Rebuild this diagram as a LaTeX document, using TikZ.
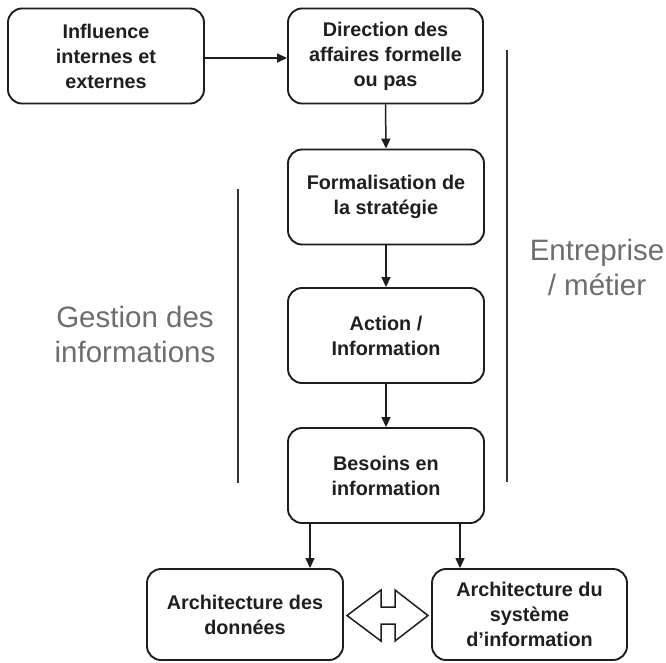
\documentclass[tikz,border=0pt]{standalone}
\usepackage{fontspec}
\setmainfont{Liberation Sans}
\usetikzlibrary{arrows.meta}
\definecolor{boxline}{HTML}{1E1E1E}
\definecolor{labgrey}{HTML}{6E6E6E}
\begin{document}
\begin{tikzpicture}[x=1pt,y=-1pt,
  box/.style={draw=boxline,line width=1.9pt,rounded corners=14pt,fill=white,
    align=center,text=black!88,font=\bfseries\fontsize{19.8}{25}\selectfont,
    minimum width=196pt,minimum height=95pt,inner sep=2pt},
  arr/.style={draw=boxline,line width=1.5pt,-{Triangle[length=10pt,width=9pt]}},
  vline/.style={draw=black!80,line width=2pt},
  glabel/.style={text=labgrey,align=center,font=\fontsize{29.5}{35}\selectfont}]
\useasboundingbox[fill=white] (0,0) rectangle (666,662);
\node[box] (inf) at (106,56) {Influence\\internes et\\externes};
\node[box,minimum width=195pt] (dir) at (385.5,56) {Direction des\\affaires formelle\\ou pas};
\node[box] (form) at (386,197) {Formalisation de\\la stratégie};
\node[box] (act) at (386,335.5) {Action /\\Information};
\node[box] (bes) at (386,475.5) {Besoins en\\information};
\node[box,minimum height=91pt] (ad) at (245,614.5) {Architecture des\\données};
\node[box,minimum width=195pt,minimum height=91pt] (asi) at (529.5,614.5) {Architecture du\\système\\d’information};
\draw[arr] ([yshift=-2pt]inf.east) -- ([yshift=-2pt]inf.east -| dir.west);
\draw[arr] (dir.south) -- (form.north);
\draw[arr] (form.south) -- (act.north);
\draw[arr] (act.south) -- (bes.north);
\coordinate (bl) at ([xshift=-76pt]bes.south);
\coordinate (br) at ([xshift=74pt]bes.south);
\draw[arr] (bl) -- (bl |- ad.north);
\draw[arr] (br) -- (br |- asi.north);
\draw[draw=boxline,line width=1.5pt,fill=white,line join=miter]
  (347,615.5) -- (381,590) -- (381,607) -- (395,607) -- (395,590) -- (428,615.5)
  -- (395,641) -- (395,624) -- (381,624) -- (381,641) -- cycle;
\coordinate (r1) at (507,50);
\coordinate (r2) at (507,482);
\coordinate (l1) at (238,189);
\coordinate (l2) at (238,483);
\draw[vline] (r1) -- (r2);
\draw[vline] (l1) -- (l2);
\node[glabel] (gest) at (135,334) {Gestion des\\informations};
\node[glabel] (entr) at (597,267) {Entreprise\\/ métier};
\end{tikzpicture}
\end{document}
